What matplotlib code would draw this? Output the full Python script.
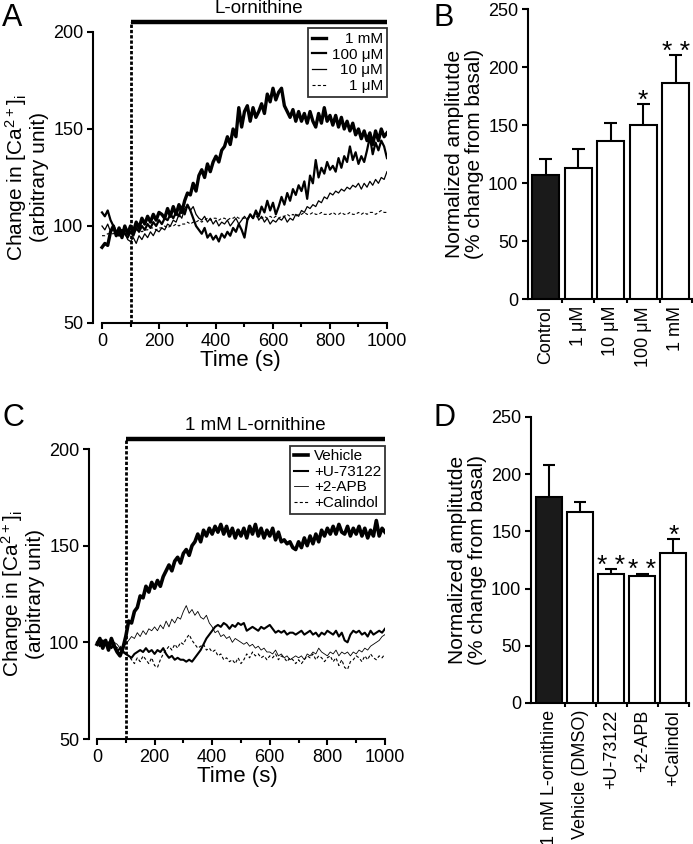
import numpy as np
import matplotlib
matplotlib.use('Agg')
import matplotlib.pyplot as plt
from matplotlib.ticker import MultipleLocator

plt.rcParams['font.family'] = ['Liberation Sans', 'DejaVu Sans']
plt.rcParams['mathtext.fontset'] = 'custom'
plt.rcParams['mathtext.rm'] = 'Liberation Sans'
plt.rcParams['mathtext.default'] = 'regular'
plt.rcParams['lines.scale_dashes'] = False

# time axis of the calcium traces (s)
time_s = np.arange(0, 1001, 10)

# panel A: L-ornithine concentrations
a_1mM = [89, 91, 90, 97, 100, 95, 99, 94, 100, 96, 100,
         97, 102, 99, 104, 101, 105, 102, 106, 103, 107,
         106, 104, 109, 105, 110, 106, 111, 107, 113, 117,
         116, 122, 118, 126, 129, 125, 132, 128, 133, 136,
         133, 139, 141, 146, 142, 150, 146, 161, 151, 159,
         162, 154, 161, 156, 159, 163, 158, 168, 164, 171,
         165, 169, 171, 162, 159, 156, 160, 154, 159, 154,
         158, 153, 159, 154, 151, 158, 153, 161, 154, 157,
         152, 157, 151, 156, 150, 154, 149, 153, 147, 150,
         145, 149, 144, 148, 142, 149, 144, 150, 146, 148]
a_100uM = [107, 105, 108, 103, 100, 97, 95, 98, 96, 94, 97,
           95, 99, 97, 100, 98, 101, 99, 102, 100, 103,
           101, 104, 103, 106, 104, 107, 105, 110, 106, 111,
           108, 104, 100, 98, 96, 99, 94, 96, 93, 95,
           92, 96, 94, 97, 95, 99, 97, 101, 98, 94,
           103, 106, 104, 108, 105, 110, 107, 113, 108, 112,
           106, 110, 115, 111, 117, 113, 119, 116, 121, 118,
           123, 114, 126, 122, 134, 125, 130, 127, 133, 129,
           131, 128, 135, 130, 136, 133, 141, 134, 138, 132,
           136, 133, 139, 146, 137, 143, 139, 144, 141, 135]
a_10uM = [100, 98, 101, 97, 99, 96, 98, 95, 97, 93, 92,
          94, 91, 95, 93, 96, 94, 97, 95, 98, 97,
          99, 98, 101, 100, 103, 102, 106, 104, 109, 111,
          108, 110, 106, 104, 103, 105, 102, 104, 101, 103,
          100, 102, 101, 103, 100, 102, 104, 101, 103, 105,
          103, 106, 104, 107, 103, 105, 102, 104, 101, 103,
          102, 104, 103, 105, 102, 104, 103, 106, 105, 108,
          107, 110, 109, 111, 110, 113, 112, 115, 114, 117,
          116, 118, 117, 119, 118, 120, 119, 121, 120, 122,
          119, 122, 120, 123, 121, 124, 122, 125, 124, 128]
a_1uM = [95, 95, 96, 96, 96, 97, 97, 97, 96, 97, 97,
         97, 98, 98, 97, 98, 98, 99, 99, 98, 99,
         99, 100, 99, 100, 100, 101, 100, 101, 101, 102,
         101, 102, 102, 103, 102, 103, 104, 103, 104, 104,
         103, 104, 104, 103, 104, 104, 105, 104, 104, 104,
         104, 105, 104, 105, 104, 104, 105, 104, 105, 104,
         105, 104, 105, 105, 106, 105, 106, 105, 106, 106,
         107, 106, 106, 107, 106, 106, 107, 106, 106, 106,
         107, 106, 106, 107, 106, 106, 107, 106, 106, 107,
         106, 107, 106, 107, 107, 106, 107, 108, 107, 107]
a_labels = ['1 mM', '100 μM', '10 μM', '1 μM']

# panel C: 1 mM L-ornithine with inhibitors
c_vehicle = [99, 102, 97, 101, 96, 102, 98, 95, 93, 97, 103,
             111, 110, 116, 118, 124, 123, 129, 126, 131, 128,
             132, 129, 134, 137, 140, 137, 142, 144, 141, 146,
             148, 145, 150, 152, 156, 152, 158, 155, 159, 156,
             160, 157, 161, 156, 160, 155, 159, 154, 158, 155,
             159, 154, 160, 156, 161, 155, 159, 154, 158, 155,
             159, 153, 157, 152, 153, 151, 152, 149, 148, 152,
             149, 154, 150, 155, 151, 156, 152, 158, 155, 159,
             156, 160, 156, 161, 157, 156, 160, 155, 159, 156,
             160, 155, 159, 154, 158, 155, 163, 155, 159, 157]
c_u73122 = [100, 98, 101, 99, 100, 97, 99, 95, 97, 95, 94,
            93, 92, 94, 95, 96, 95, 97, 95, 96, 94,
            96, 95, 97, 94, 92, 93, 91, 92, 91, 91,
            90, 91, 90, 92, 94, 96, 99, 102, 104, 106,
            108, 109, 108, 110, 109, 107, 109, 108, 110, 109,
            110, 106, 107, 108, 107, 106, 108, 107, 108, 109,
            107, 105, 106, 105, 106, 104, 105, 105, 104, 105,
            106, 104, 105, 106, 104, 105, 103, 105, 104, 106,
            105, 104, 106, 103, 105, 101, 100, 104, 106, 105,
            106, 104, 105, 103, 106, 104, 105, 106, 105, 107]
c_2apb = [99, 100, 98, 100, 99, 98, 100, 99, 97, 98, 99,
          101, 103, 102, 105, 103, 106, 104, 107, 106, 108,
          106, 109, 107, 111, 108, 112, 110, 113, 112, 116,
          119, 115, 117, 114, 116, 113, 112, 114, 110, 108,
          105, 106, 103, 104, 102, 103, 100, 102, 101, 100,
          99, 100, 98, 99, 97, 98, 96, 97, 95, 95,
          94, 96, 93, 94, 92, 93, 91, 92, 93, 92,
          93, 91, 94, 93, 95, 94, 97, 95, 94, 93,
          95, 94, 96, 93, 95, 94, 95, 93, 95, 94,
          96, 95, 97, 96, 98, 99, 100, 101, 103, 104]
c_calindol = [99, 100, 98, 99, 100, 98, 99, 97, 98, 96, 94,
              93, 91, 89, 92, 90, 93, 91, 89, 92, 88,
              87, 91, 94, 96, 98, 96, 99, 97, 100, 99,
              102, 104, 101, 99, 97, 98, 99, 96, 97, 95,
              96, 93, 94, 91, 92, 90, 91, 89, 92, 89,
              91, 94, 92, 95, 93, 94, 92, 93, 91, 93,
              92, 94, 91, 93, 92, 90, 92, 91, 89, 91,
              89, 91, 93, 92, 94, 91, 93, 92, 90, 92,
              93, 90, 92, 88, 91, 87, 86, 90, 91, 93,
              92, 90, 93, 91, 94, 92, 91, 93, 92, 94]
c_labels = ['Vehicle', '+U-73122', '+2-APB', '+Calindol']

# panel B: normalized amplitude (mean, top of error bar)
b_names = ['Control', '1 μM', '10 μM', '100 μM', '1 mM']
b_mean = [107, 113, 136, 150, 186]
b_top = [121, 129, 152, 168, 210]
b_stars = ['', '', '', '*', '* *']

# panel D
d_names = ['1 mM L-ornithine', 'Vehicle (DMSO)', '+U-73122', '+2-APB', '+Calindol']
d_mean = [180, 167, 113, 111, 131]
d_top = [208, 176, 117, 113, 143]
d_stars = ['', '', '* *', '* *', '*']

fills = ['#1a1a1a', 'white', 'white', 'white', 'white']

SPW = 1.5
TICK_FS = 13
LAB_FS = 15


def style_axes(ax):
    for s in ['top', 'right']:
        ax.spines[s].set_visible(False)
    for s in ['left', 'bottom']:
        ax.spines[s].set_linewidth(SPW)
    ax.tick_params(which='both', direction='out', width=SPW, labelsize=TICK_FS)
    ax.tick_params(which='major', length=4.5, pad=2.5)
    ax.tick_params(which='minor', length=3)


def trace_panel(ax, traces, widths, styles, labels, bar_text, xmin, right_align):
    for y, lw, ls, lab in zip(traces, widths, styles, labels):
        ax.plot(time_s, y, color='k', lw=lw, ls=ls, label=lab)
    ax.set_xlim(xmin, 1000)
    ax.set_ylim(50, 200)
    style_axes(ax)
    ax.spines['bottom'].set_bounds(0, 1000)
    ax.xaxis.set_major_locator(MultipleLocator(200))
    ax.xaxis.set_minor_locator(MultipleLocator(100))
    ax.yaxis.set_major_locator(MultipleLocator(50))
    ax.set_xlabel('Time (s)', fontsize=16, labelpad=0)
    ax.set_ylabel('Change in [Ca$^{2+}$]$_{i}$\n(arbitrary unit)', fontsize=LAB_FS,
                  labelpad=3, linespacing=1.05)
    # application bar and onset marker
    ax.plot([100, 1000], [205, 205], color='k', lw=3.2, solid_capstyle='butt', clip_on=False)
    ax.plot([100, 100], [50, 205], color='k', lw=2.0, ls=(0, (2.4, 1.4)), clip_on=False)
    ax.text(550, 212, bar_text, ha='center', va='center', fontsize=13.5)
    leg = ax.legend(loc='upper right', bbox_to_anchor=(1.0, 1.012), borderaxespad=0,
                    fontsize=11, frameon=True, fancybox=False, handlelength=0.9,
                    handletextpad=0.4, labelspacing=0.1, borderpad=0.25)
    leg.get_frame().set_edgecolor('k')
    leg.get_frame().set_linewidth(1.3)
    if right_align:
        r = ax.figure.canvas.get_renderer()
        texts = leg.get_texts()
        w = [t.get_window_extent(r).width for t in texts]
        for t, wi in zip(texts, w):
            t.set_position((max(w) - wi, 0))


def bar_panel(ax, names, mean, top, stars, xmin):
    x = np.arange(len(names))
    ax.bar(x, mean, width=0.84, color=fills, edgecolor='k', lw=1.5, zorder=3)
    ax.vlines(x, mean, top, color='k', lw=1.5, zorder=2)
    ax.hlines(top, x - 0.2, x + 0.2, color='k', lw=1.5, zorder=2)
    for xi, t, s in zip(x, top, stars):
        if s:
            ax.text(xi, t - 3, s, ha='center', va='baseline', fontsize=19)
    ax.set_xlim(xmin, len(names) - 0.5)
    ax.set_ylim(0, 250)
    style_axes(ax)
    ax.yaxis.set_major_locator(MultipleLocator(50))
    ax.set_xticks(x)
    ax.set_xticklabels(names, rotation=90)
    ax.set_xticks(x + 0.5, minor=True)
    ax.tick_params(axis='x', which='major', length=0, pad=5)
    ax.set_ylabel('Normalized amplitutde\n(% change from basal)', fontsize=LAB_FS,
                  labelpad=3, linespacing=1.05)


fig = plt.figure(figsize=(6.93, 8.44), dpi=100)
axA = fig.add_axes([0.1342, 0.6173, 0.4242, 0.3448])
axB = fig.add_axes([0.7619, 0.6457, 0.2367, 0.3436])
axC = fig.add_axes([0.1284, 0.1244, 0.4271, 0.3436])
axD = fig.add_axes([0.7662, 0.1671, 0.2280, 0.3389])

trace_panel(axA, [a_1mM, a_100uM, a_10uM, a_1uM], [2.4, 1.6, 0.9, 0.8],
            ['-', '-', '-', (0, (2.2, 1.6))], a_labels, 'L-ornithine', -31.6, True)
trace_panel(axC, [c_vehicle, c_u73122, c_2apb, c_calindol], [2.6, 1.5, 0.6, 0.8],
            ['-', '-', '-', (0, (2.2, 1.6))], c_labels, '1 mM L-ornithine', -27.8, False)
bar_panel(axB, b_names, b_mean, b_top, b_stars, -0.544)
bar_panel(axD, d_names, d_mean, d_top, d_stars, -0.58)

for lab, xx, yy in [('A', 0.003, 0.997), ('B', 0.625, 0.997),
                    ('C', 0.003, 0.522), ('D', 0.625, 0.522)]:
    fig.text(xx, yy, lab, fontsize=22, ha='left', va='top')

fig.savefig('out.png', dpi=100)
